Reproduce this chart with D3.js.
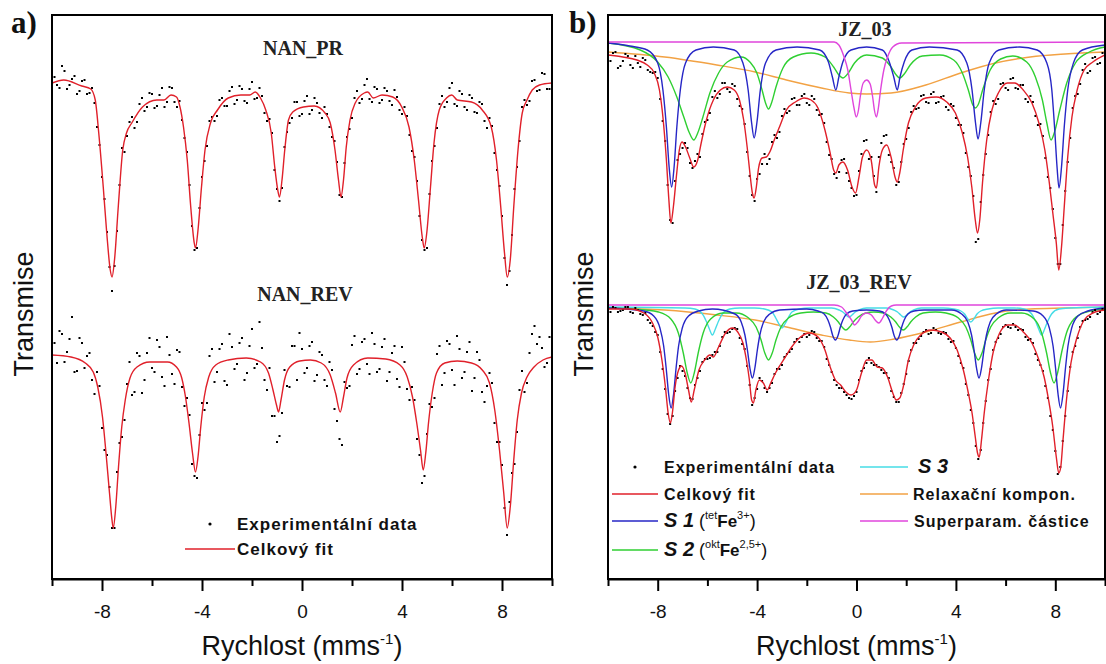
<!DOCTYPE html>
<html>
<head>
<meta charset="utf-8">
<script src="https://cdn.jsdelivr.net/npm/d3@7"></script>
<style>
  body { margin: 0; background: #fff; }
  .axis path, .axis line { stroke: #000; stroke-width: 2; }
  .axis text { font-family: "Liberation Sans", Arial, sans-serif; font-size: 19px; fill: #111; }
</style>
</head>
<body>
<div id="chart"></div>
<script>

// velocity grids of the measured channels (mm/s), two interleaved sweeps
const velocityGrid = d3.range(101).map(i => -10 + i * 0.2);
const velocityGridHalf = d3.range(100).map(i => -9.9 + i * 0.2);

const xMajorTicks = [-8, -4, 0, 4, 8];
const xMinorTicks = [-6, -2, 2, 6];

// ---- a) NAN_PR ----
const nanPrDots = [502,494,513,490,500,485,498,485,491,452,
  402,347,288,348,431,443,462,457,481,472,
  485,473,491,477,491,472,459,427,353,331,
  402,433,462,463,481,473,492,479,490,476,
  497,481,483,458,446,390,391,447,461,477,
  465,483,469,476,461,465,442,417,382,442,
  461,488,480,500,477,490,479,488,474,482,
  465,463,428,398,339,331,418,451,483,477,
  496,473,485,469,481,466,475,451,453,409,
  363,294,344,412,472,474,498,488,506,490,504];

const nanPrDotsHalf = [502,491,508,494,503,488,499,486,476,434,
  380,312,313,394,427,457,451,475,468,486,
  471,484,472,492,477,478,441,394,329,371,
  418,458,458,479,473,488,475,493,478,490,
  480,491,466,460,409,378,432,456,477,463,
  478,465,481,466,472,452,438,384,416,450,
  481,476,494,480,492,476,491,478,489,469,
  472,444,422,363,329,385,433,475,472,491,
  475,488,472,484,467,477,458,461,426,393,
  321,308,390,438,479,478,499,489,505,490];

const nanPrFit = [[-10,496],[-9.53,499],[-8.81,493],[-8.45,490],[-8.27,479],[-8.13,446],[-7.95,392],[-7.81,346],[-7.67,309],[-7.6,302],[-7.5,319],[-7.35,372],[-7.17,429],[-7.02,446],[-6.81,456],[-6.38,472],[-5.81,479],[-5.52,479],[-5.24,484],[-5.02,482],[-4.88,472],[-4.74,452],[-4.59,419],[-4.45,372],[-4.31,336],[-4.26,331],[-4.16,349],[-4.02,392],[-3.88,429],[-3.66,456],[-3.38,469],[-2.95,481],[-2.45,484],[-2.09,484],[-1.87,487],[-1.66,481],[-1.45,469],[-1.23,446],[-1.09,412],[-0.97,389],[-0.9,382],[-0.8,399],[-0.69,429],[-0.54,459],[-0.37,467],[0.06,472],[0.49,473],[0.92,466],[1.13,456],[1.32,429],[1.46,399],[1.56,382],[1.66,399],[1.77,432],[1.92,459],[2.13,476],[2.49,486],[2.63,487],[2.85,481],[3.2,484],[3.63,482],[3.99,472],[4.28,452],[4.49,419],[4.66,379],[4.81,342],[4.89,331],[4.99,346],[5.14,392],[5.28,436],[5.49,469],[5.78,481],[5.99,484],[6.21,479],[6.78,477],[7.21,469],[7.57,452],[7.78,419],[7.95,372],[8.1,326],[8.21,302],[8.33,319],[8.47,372],[8.64,429],[8.81,466],[9,479],[9.21,489],[9.5,494],[10,496]];

// ---- a) NAN_REV ----
const nanRevDots = [239,216,245,227,262,208,236,223,199,207,
  151,124,51,107,142,195,184,226,186,226,
  211,239,202,242,205,229,192,181,115,101,
  176,176,230,207,235,194,232,215,241,206,
  250,215,231,189,163,137,166,193,233,199,
  230,211,237,204,224,193,209,158,134,191,
  234,205,237,215,246,207,232,198,226,200,
  232,190,192,140,96,145,172,225,194,238,
  209,243,201,227,188,227,187,193,196,137,
  114,44,106,147,208,196,245,235,231,216,237];

const nanRevDotsHalf = [236,248,217,240,207,241,211,226,185,193,
  129,92,51,136,159,217,187,223,199,241,
  207,232,193,224,195,227,173,164,103,144,
  169,223,197,230,198,245,210,236,199,233,
  211,257,199,211,163,143,209,192,233,246,
  206,233,198,227,199,217,170,140,197,193,
  243,210,240,205,235,210,240,207,233,192,
  217,179,179,124,103,175,181,233,206,235,
  194,230,207,237,201,219,177,206,156,137,
  71,77,115,189,187,226,253,242,212,242];

const nanRevFit = [[-10,224],[-9.24,222],[-8.67,216],[-8.35,207],[-8.17,192],[-7.98,162],[-7.84,126],[-7.7,86],[-7.6,59],[-7.55,51],[-7.45,72],[-7.34,112],[-7.21,152],[-7.07,179],[-6.88,201],[-6.6,212],[-6.09,217],[-5.38,217],[-5.02,212],[-4.81,201],[-4.66,182],[-4.52,156],[-4.38,126],[-4.26,107],[-4.16,122],[-4.05,152],[-3.91,182],[-3.73,202],[-3.45,214],[-2.95,219],[-2.23,221],[-1.66,217],[-1.34,206],[-1.16,189],[-1.02,174],[-0.94,167],[-0.84,179],[-0.7,199],[-0.49,212],[-0.09,218],[0.34,219],[0.77,216],[1.13,204],[1.34,186],[1.53,167],[1.66,182],[1.8,201],[2.06,214],[2.63,221],[3.35,220],[3.92,214],[4.21,202],[4.42,182],[4.59,156],[4.74,129],[4.85,109],[4.95,126],[5.06,156],[5.21,186],[5.38,206],[5.71,216],[6.21,218],[6.78,216],[7.21,209],[7.5,196],[7.71,169],[7.9,129],[8.07,86],[8.21,51],[8.33,72],[8.47,119],[8.61,159],[8.78,186],[9,202],[9.28,212],[9.64,219],[10,222]];

// ---- b) JZ_03 ----
const jz03Dots = [516,526,511,518,523,511,516,521,509,506,
  501,458,394,356,419,431,431,411,425,445,
  459,482,481,496,490,495,480,470,427,384,
  400,415,415,437,441,463,466,480,474,483,
  476,483,469,465,437,420,401,419,406,391,
  384,425,439,422,387,436,444,417,394,417,
  440,467,470,483,477,485,476,482,472,475,
  461,454,426,403,337,377,425,467,475,495,
  491,500,491,494,480,483,463,455,421,391,
  341,315,388,441,483,495,515,508,522,516,521];

const jz03DotsHalf = [518,527,513,525,514,523,512,519,507,507,
  480,438,359,398,425,436,416,418,422,457,
  466,488,485,496,487,493,473,455,403,378,
  405,425,420,444,447,470,468,481,474,485,
  474,480,464,456,424,405,407,420,398,383,
  408,438,420,403,422,443,424,411,397,435,
  451,473,471,484,476,487,477,483,469,473,
  454,446,412,383,340,404,444,478,480,496,
  489,501,490,494,477,477,454,443,402,370,
  315,354,417,471,485,509,506,521,515,526];

const jz03Fit = [[-10,524],[-9.4,522],[-8.84,519],[-8.42,514],[-8.14,506],[-7.93,489],[-7.79,462],[-7.65,419],[-7.55,379],[-7.47,356],[-7.37,372],[-7.25,402],[-7.13,429],[-7.02,437],[-6.88,432],[-6.71,421],[-6.55,412],[-6.39,419],[-6.25,436],[-6.04,459],[-5.76,479],[-5.48,489],[-5.2,492],[-4.92,489],[-4.71,479],[-4.54,459],[-4.4,432],[-4.29,406],[-4.19,386],[-4.12,381],[-4.03,392],[-3.94,411],[-3.8,421],[-3.63,422],[-3.49,427],[-3.31,439],[-3.1,452],[-2.82,469],[-2.46,477],[-2.11,481],[-1.83,479],[-1.55,471],[-1.27,449],[-1.06,426],[-0.92,409],[-0.83,406],[-0.71,414],[-0.55,417],[-0.36,409],[-0.18,392],[-0.04,386],[0.1,402],[0.24,422],[0.41,429],[0.59,419],[0.73,394],[0.8,391],[0.9,412],[1.04,429],[1.22,434],[1.39,422],[1.55,402],[1.64,397],[1.74,406],[1.88,429],[2.09,456],[2.37,472],[2.79,481],[3.21,482],[3.63,477],[3.98,466],[4.26,446],[4.47,422],[4.64,392],[4.78,359],[4.87,346],[4.96,359],[5.07,396],[5.24,439],[5.45,469],[5.73,487],[6.08,496],[6.36,496],[6.71,489],[7.06,476],[7.34,456],[7.58,429],[7.76,396],[7.9,366],[8.04,336],[8.14,309],[8.25,332],[8.36,372],[8.5,422],[8.67,462],[8.88,489],[9.16,509],[9.51,517],[10,524]];

const jz03S1 = [[-10,536],[-9.12,533],[-8.42,529],[-8,516],[-7.79,489],[-7.65,452],[-7.54,412],[-7.44,392],[-7.34,412],[-7.23,452],[-7.09,489],[-6.88,516],[-6.46,529],[-5.76,532],[-4.92,529],[-4.57,516],[-4.36,489],[-4.22,456],[-4.12,441],[-4.01,456],[-3.87,489],[-3.66,516],[-3.24,529],[-2.39,532],[-1.48,529],[-1.13,517],[-0.97,502],[-0.83,489],[-0.71,502],[-0.55,517],[-0.22,529],[0.41,532],[1.04,529],[1.32,517],[1.5,502],[1.64,489],[1.75,502],[1.92,517],[2.23,529],[2.93,532],[4.05,529],[4.44,516],[4.65,489],[4.79,456],[4.89,440],[5,456],[5.14,489],[5.34,516],[5.73,529],[6.57,532],[7.27,529],[7.66,516],[7.86,489],[7.97,452],[8.07,412],[8.15,391],[8.25,412],[8.36,452],[8.5,489],[8.73,516],[9.09,529],[10,534]];

const jz03S2 = [[-10,536],[-8.7,529],[-8,517],[-7.58,502],[-7.23,482],[-6.95,462],[-6.74,447],[-6.55,439],[-6.39,446],[-6.18,462],[-5.9,486],[-5.55,506],[-5.2,517],[-4.64,522],[-4.29,517],[-4.01,506],[-3.8,489],[-3.66,476],[-3.54,470],[-3.42,476],[-3.24,492],[-2.96,511],[-2.54,522],[-1.83,526],[-1.27,522],[-0.92,512],[-0.71,504],[-0.55,501],[-0.36,505],[-0.08,516],[0.41,524],[1.04,521],[1.39,512],[1.6,504],[1.74,501],[1.92,505],[2.16,514],[2.65,523],[3.35,524],[3.91,519],[4.26,506],[4.5,489],[4.68,474],[4.78,471],[4.89,474],[5.1,491],[5.38,509],[5.8,520],[6.29,523],[6.85,517],[7.2,502],[7.48,479],[7.66,456],[7.83,439],[7.97,447],[8.18,469],[8.46,496],[8.81,516],[9.37,527],[10,532]];

const jz03Relax = [[-10,527],[-7.72,522],[-5.62,514],[-4.08,507],[-2.82,499],[-1.41,491],[-0.29,486],[0.41,485],[1.39,486],[2.79,494],[4.19,506],[5.59,516],[6.99,522],[8.39,525],[10,527]];

const jz03Spm = [[-10,537],[-0.9,537],[-0.71,534],[-0.5,522],[-0.35,509],[-0.22,489],[-0.1,471],[-0.01,462],[0.08,469],[0.15,482],[0.27,496],[0.41,499],[0.55,495],[0.65,482],[0.72,469],[0.8,462],[0.88,471],[0.97,489],[1.1,509],[1.25,522],[1.46,532],[1.81,536],[10,537]];

// ---- b) JZ_03_REV ----
const jzRevDots = [268,272,267,269,272,266,269,264,259,253,
  244,210,165,163,201,208,191,180,201,217,
  220,224,227,242,246,250,250,235,213,174,
  190,198,187,196,210,214,225,230,240,242,
  242,248,241,238,220,207,194,191,184,180,
  187,208,216,216,214,209,206,188,177,186,
  205,229,236,243,249,246,249,245,246,237,
  231,216,195,169,133,129,178,210,237,245,
  254,251,252,250,242,240,225,214,193,163,
  128,112,163,212,233,252,259,262,269,267,267];

const jzRevDotsHalf = [267,271,268,272,267,271,265,266,256,247,
  227,190,155,188,213,203,181,194,208,220,
  221,227,233,247,247,251,241,230,194,181,
  201,191,191,205,210,222,227,237,237,245,
  244,247,238,232,214,199,191,187,181,183,
  199,211,221,214,212,206,201,182,177,195,
  218,236,240,247,245,251,246,247,240,238,
  223,211,184,156,120,156,199,229,241,252,
  252,255,249,249,239,236,219,208,181,149,
  105,138,188,227,241,258,260,267,265,270];

const jzRevFit = [[-10,270],[-9.12,270],[-8.56,266],[-8.21,256],[-8,242],[-7.83,219],[-7.69,192],[-7.58,166],[-7.49,156],[-7.41,166],[-7.3,192],[-7.16,209],[-7.04,213],[-6.9,206],[-6.76,189],[-6.65,177],[-6.53,189],[-6.34,209],[-6.11,219],[-5.9,224],[-5.76,222],[-5.55,232],[-5.27,246],[-4.99,251],[-4.78,247],[-4.57,236],[-4.43,219],[-4.31,199],[-4.22,179],[-4.15,176],[-4.05,189],[-3.91,199],[-3.75,196],[-3.59,189],[-3.45,196],[-3.26,206],[-3.07,214],[-2.89,221],[-2.61,232],[-2.25,242],[-1.9,246],[-1.55,242],[-1.27,229],[-1.06,212],[-0.85,199],[-0.64,194],[-0.43,187],[-0.22,184],[0,189],[0.2,206],[0.41,219],[0.62,219],[0.83,212],[1.04,211],[1.25,202],[1.46,186],[1.6,179],[1.74,181],[1.88,192],[2.09,219],[2.3,234],[2.58,244],[3,249],[3.42,247],[3.77,241],[4.05,229],[4.3,209],[4.5,186],[4.65,166],[4.78,142],[4.87,126],[4.94,122],[5.03,139],[5.14,166],[5.31,199],[5.52,229],[5.76,246],[6.08,254],[6.36,254],[6.71,247],[7.06,236],[7.34,219],[7.55,202],[7.73,179],[7.9,152],[8.04,122],[8.14,106],[8.22,112],[8.31,139],[8.45,179],[8.63,216],[8.88,242],[9.16,259],[9.51,266],[10,269]];

const jzRevS1 = [[-10,271],[-8.56,268],[-8.16,263],[-7.91,251],[-7.76,233],[-7.66,211],[-7.56,185],[-7.46,171],[-7.36,185],[-7.26,211],[-7.16,233],[-7.01,251],[-6.76,263],[-6.36,268],[-5.8,270],[-4.89,265],[-4.64,257],[-4.49,244],[-4.39,229],[-4.29,211],[-4.19,201],[-4.09,211],[-3.99,229],[-3.89,244],[-3.74,257],[-3.49,265],[-3.09,269],[-2,270],[-1.55,268],[-1.3,265],[-1.15,259],[-1.05,252],[-0.95,243],[-0.85,239],[-0.75,243],[-0.65,252],[-0.55,259],[-0.4,265],[-0.15,268],[0.4,269],[0.92,268],[1.17,265],[1.32,259],[1.42,252],[1.52,243],[1.62,239],[1.72,243],[1.82,252],[1.92,259],[2.07,265],[2.32,268],[2.72,269],[3.83,269],[4.23,265],[4.48,257],[4.63,244],[4.73,229],[4.83,211],[4.93,201],[5.03,211],[5.13,229],[5.23,244],[5.38,257],[5.63,265],[6.03,269],[7.11,268],[7.51,263],[7.76,251],[7.91,233],[8.01,211],[8.11,185],[8.21,171],[8.31,185],[8.41,211],[8.51,233],[8.66,251],[8.91,263],[9.31,268],[10,271]];

const jzRevS2 = [[-10,271],[-8.5,269],[-7.97,267],[-7.47,260],[-7.17,246],[-6.97,226],[-6.82,207],[-6.67,196],[-6.52,207],[-6.37,226],[-6.17,246],[-5.87,260],[-5.37,266],[-4.84,266],[-4.34,261],[-4.04,252],[-3.84,239],[-3.69,226],[-3.54,219],[-3.39,226],[-3.24,239],[-3.04,252],[-2.74,261],[-2.24,266],[-1.73,267],[-1.23,266],[-0.93,262],[-0.73,257],[-0.58,252],[-0.43,249],[-0.28,252],[-0.13,257],[0.07,262],[0.37,266],[0.7,267],[1.08,266],[1.38,262],[1.58,257],[1.73,252],[1.88,249],[2.03,252],[2.18,257],[2.38,262],[2.68,266],[3.18,267],[3.6,266],[4.1,261],[4.4,252],[4.6,239],[4.75,226],[4.9,219],[5.05,226],[5.2,239],[5.4,252],[5.7,261],[6.2,266],[6.65,266],[7.15,260],[7.45,246],[7.65,226],[7.8,207],[7.95,196],[8.1,207],[8.25,226],[8.45,246],[8.75,260],[9.25,267],[10,270]];

const jzRevS3 = [[-10,272],[-6.9,271],[-6.5,270],[-6.2,265],[-6.05,258],[-5.92,250],[-5.8,244],[-5.68,250],[-5.55,258],[-5.4,265],[-5.1,270],[-4.7,271],[-4.1,271],[-3.7,270],[-3.4,267],[-3.25,261],[-3.12,255],[-3,251],[-2.88,255],[-2.75,261],[-2.6,267],[-2.3,270],[-1.9,271],[-1,271],[-0.7,269],[-0.55,267],[-0.42,264],[-0.3,262],[-0.18,264],[-0.05,267],[0.1,269],[0.4,271],[1.2,271],[1.5,269],[1.65,267],[1.78,264],[1.9,262],[2.02,264],[2.15,267],[2.3,269],[2.6,271],[3.5,271],[3.9,270],[4.2,268],[4.35,265],[4.48,260],[4.6,257],[4.72,260],[4.85,265],[5,268],[5.3,270],[5.7,271],[6.35,271],[6.75,270],[7.05,265],[7.2,258],[7.33,250],[7.45,244],[7.57,250],[7.7,258],[7.85,265],[8.15,270],[8.55,271],[10,272]];

const jzRevRelax = [[-10,271],[-7.72,269],[-5.62,264],[-4.08,259],[-2.82,252],[-1.41,244],[-0.29,239],[0.55,237],[1.53,240],[2.79,247],[4.19,257],[5.59,266],[6.99,270],[8.39,271],[10,272]];

const jzRevSpm = [[-10,274],[-0.9,274],[-0.6,272],[-0.4,266],[-0.2,259],[-0.08,254],[0.05,257],[0.2,263],[0.4,266],[0.6,264],[0.75,259],[0.9,256],[1.05,261],[1.2,268],[1.4,273],[1.6,274],[10,274]];

// colours of the fitted components
const colors = {
    fit: "#e0202a",
    s1: "#2626c6",
    s2: "#2fcf32",
    s3: "#46dce6",
    relax: "#f2a244",
    spm: "#e046dc"
};

const sansFont = "'Liberation Sans', Arial, sans-serif";
const serifFont = "'Liberation Serif', 'Times New Roman', serif";

const svg = d3.select("#chart").append("svg")
    .attr("width", 1106)
    .attr("height", 664);

// shared vertical scale (arbitrary transmission units)
const y = d3.scaleLinear().domain([0, 564]).range([579, 15]);

// both sweeps of measured points as [velocity, value]
function measured(values, valuesHalf) {
    return d3.zip(velocityGrid, values).concat(d3.zip(velocityGridHalf, valuesHalf));
}

// rich text with sub/superscript pieces
function richText(g, x, yPos, parts, anchor) {
    const t = g.append("text")
        .attr("x", x).attr("y", yPos)
        .attr("text-anchor", anchor || "start")
        .style("font-family", sansFont)
        .attr("fill", "#111");
    parts.forEach(p => {
        t.append("tspan")
            .attr("dy", p.dy || 0)
            .style("font-size", p.size + "px")
            .style("font-weight", p.weight || "bold")
            .style("font-style", p.italic ? "italic" : "normal")
            .style("letter-spacing", (p.ls || 0) + "px")
            .text(p.t);
    });
    return t;
}

function drawPanel(cfg) {
    const x = d3.scaleLinear().domain([-10, 10]).range([cfg.left, cfg.right]);
    const g = svg.append("g");

    g.append("clipPath").attr("id", "clip-" + cfg.id)
        .append("rect")
        .attr("x", cfg.left).attr("y", y(564))
        .attr("width", cfg.right - cfg.left)
        .attr("height", y(0) - y(564));

    const plot = g.append("g").attr("clip-path", "url(#clip-" + cfg.id + ")");

    const line = d3.line()
        .x(d => x(d[0]))
        .y(d => y(d[1]))
        .curve(d3.curveMonotoneX);

    cfg.spectra.forEach(sp => {
        // fitted sub-spectra
        (sp.components || []).forEach(c => {
            plot.append("path")
                .datum(c.data)
                .attr("d", line)
                .attr("fill", "none")
                .attr("stroke", c.color)
                .attr("stroke-width", 1.4);
        });

        // measured points
        plot.selectAll(null)
            .data(sp.dots)
            .enter().append("rect")
            .attr("x", d => x(d[0]) - 1)
            .attr("y", d => y(d[1]) - 1)
            .attr("width", 2)
            .attr("height", 2)
            .attr("fill", "#000");

        // total fit
        plot.append("path")
            .datum(sp.fit)
            .attr("d", line)
            .attr("fill", "none")
            .attr("stroke", colors.fit)
            .attr("stroke-width", 1.4);

        g.append("text")
            .attr("x", x(sp.titlePos[0]))
            .attr("y", y(sp.titlePos[1]))
            .attr("text-anchor", "middle")
            .style("font-family", serifFont)
            .style("font-weight", "bold")
            .style("font-size", "20px")
            .attr("fill", "#222")
            .text(sp.title);
    });

    // x axis: major ticks with labels, minor ticks without
    const axisG = g.append("g")
        .attr("class", "axis")
        .attr("transform", "translate(0," + y(0) + ")");
    axisG.call(d3.axisBottom(x)
        .tickValues(xMajorTicks)
        .tickSize(12)
        .tickSizeOuter(7)
        .tickPadding(14)
        .tickFormat(d => String(d)));

    const minorG = g.append("g")
        .attr("class", "axis")
        .attr("transform", "translate(0," + y(0) + ")");
    minorG.call(d3.axisBottom(x).tickValues(xMinorTicks).tickSize(7).tickFormat(""));
    minorG.select(".domain").remove();

    // frame
    g.append("rect")
        .attr("x", cfg.left).attr("y", y(564))
        .attr("width", cfg.right - cfg.left)
        .attr("height", y(0) - y(564))
        .attr("fill", "none")
        .attr("stroke", "#000")
        .attr("stroke-width", 2);

    // axis titles
    g.append("text")
        .attr("transform", "translate(" + cfg.yLabelX + ",314) rotate(-90)")
        .attr("text-anchor", "middle")
        .style("font-family", sansFont)
        .style("font-size", "27px")
        .attr("fill", "#111")
        .text("Transmise");

    richText(g, (cfg.left + cfg.right) / 2, 655, [
        { t: "Rychlost (mms", size: 27, weight: "normal" },
        { t: "-1", size: 15, weight: "normal", dy: -11 },
        { t: ")", size: 27, weight: "normal", dy: 11 }
    ], "middle");

    g.append("text")
        .attr("x", cfg.letterX).attr("y", 33)
        .style("font-family", serifFont)
        .style("font-weight", "bold")
        .style("font-size", "31px")
        .attr("fill", "#111")
        .text(cfg.letter);

    // legend
    const leg = g.append("g");
    cfg.legend.forEach(item => {
        if (item.marker == "dot") {
            leg.append("circle")
                .attr("cx", (item.x1 + item.x2) / 2).attr("cy", item.y)
                .attr("r", 1.6).attr("fill", "#000");
        } else {
            leg.append("line")
                .attr("x1", item.x1).attr("x2", item.x2)
                .attr("y1", item.y).attr("y2", item.y)
                .attr("stroke", item.color).attr("stroke-width", 1.4);
        }
        richText(leg, item.tx, item.y + 6, item.parts);
    });
}

const plain = (t, size) => [{ t: t, size: size, ls: 1 }];

drawPanel({
    id: "a", left: 52, right: 552, yLabelX: 33, letter: "a)", letterX: 11,
    spectra: [
        { title: "NAN_PR", titlePos: [0.04, 524], dots: measured(nanPrDots, nanPrDotsHalf), fit: nanPrFit },
        { title: "NAN_REV", titlePos: [0.12, 278], dots: measured(nanRevDots, nanRevDotsHalf), fit: nanRevFit }
    ],
    legend: [
        { marker: "dot", x1: 185, x2: 235, y: 524, tx: 237, parts: plain("Experimentální data", 17) },
        { marker: "line", color: colors.fit, x1: 185, x2: 235, y: 549, tx: 237, parts: plain("Celkový fit", 17) }
    ]
});

drawPanel({
    id: "b", left: 608, right: 1105, yLabelX: 593, letter: "b)", letterX: 569,
    spectra: [
        { title: "JZ_03", titlePos: [0.34, 543], dots: measured(jz03Dots, jz03DotsHalf), fit: jz03Fit,
          components: [
            { data: jz03Relax, color: colors.relax },
            { data: jz03S2, color: colors.s2 },
            { data: jz03S1, color: colors.s1 },
            { data: jz03Spm, color: colors.spm }
          ] },
        { title: "JZ_03_REV", titlePos: [0.1, 290], dots: measured(jzRevDots, jzRevDotsHalf), fit: jzRevFit,
          components: [
            { data: jzRevRelax, color: colors.relax },
            { data: jzRevS3, color: colors.s3 },
            { data: jzRevS2, color: colors.s2 },
            { data: jzRevS1, color: colors.s1 },
            { data: jzRevSpm, color: colors.spm }
          ] }
    ],
    legend: [
        { marker: "dot", x1: 612, x2: 658, y: 467, tx: 664, parts: plain("Experimentální data", 16) },
        { marker: "line", color: colors.fit, x1: 612, x2: 658, y: 494, tx: 664, parts: plain("Celkový fit", 16) },
        { marker: "line", color: colors.s1, x1: 612, x2: 658, y: 521, tx: 664, parts: [
            { t: "S 1", size: 20, italic: true },
            { t: " (", size: 18, weight: "normal" },
            { t: "tet", size: 11, weight: "normal", dy: -8 },
            { t: "Fe", size: 17, dy: 8 },
            { t: "3+", size: 11, weight: "normal", dy: -8 },
            { t: ")", size: 18, weight: "normal", dy: 8 }
        ] },
        { marker: "line", color: colors.s2, x1: 612, x2: 658, y: 550, tx: 664, parts: [
            { t: "S 2", size: 20, italic: true },
            { t: " (", size: 18, weight: "normal" },
            { t: "okt", size: 11, weight: "normal", dy: -8 },
            { t: "Fe", size: 17, dy: 8 },
            { t: "2,5+", size: 11, weight: "normal", dy: -8 },
            { t: ")", size: 18, weight: "normal", dy: 8 }
        ] },
        { marker: "line", color: colors.s3, x1: 860, x2: 908, y: 467, tx: 918, parts: [{ t: "S 3", size: 20, italic: true }] },
        { marker: "line", color: colors.relax, x1: 860, x2: 908, y: 494, tx: 913, parts: plain("Relaxační kompon.", 16) },
        { marker: "line", color: colors.spm, x1: 860, x2: 908, y: 521, tx: 914, parts: plain("Superparam. částice", 16) }
    ]
});

</script>
</body>
</html>
